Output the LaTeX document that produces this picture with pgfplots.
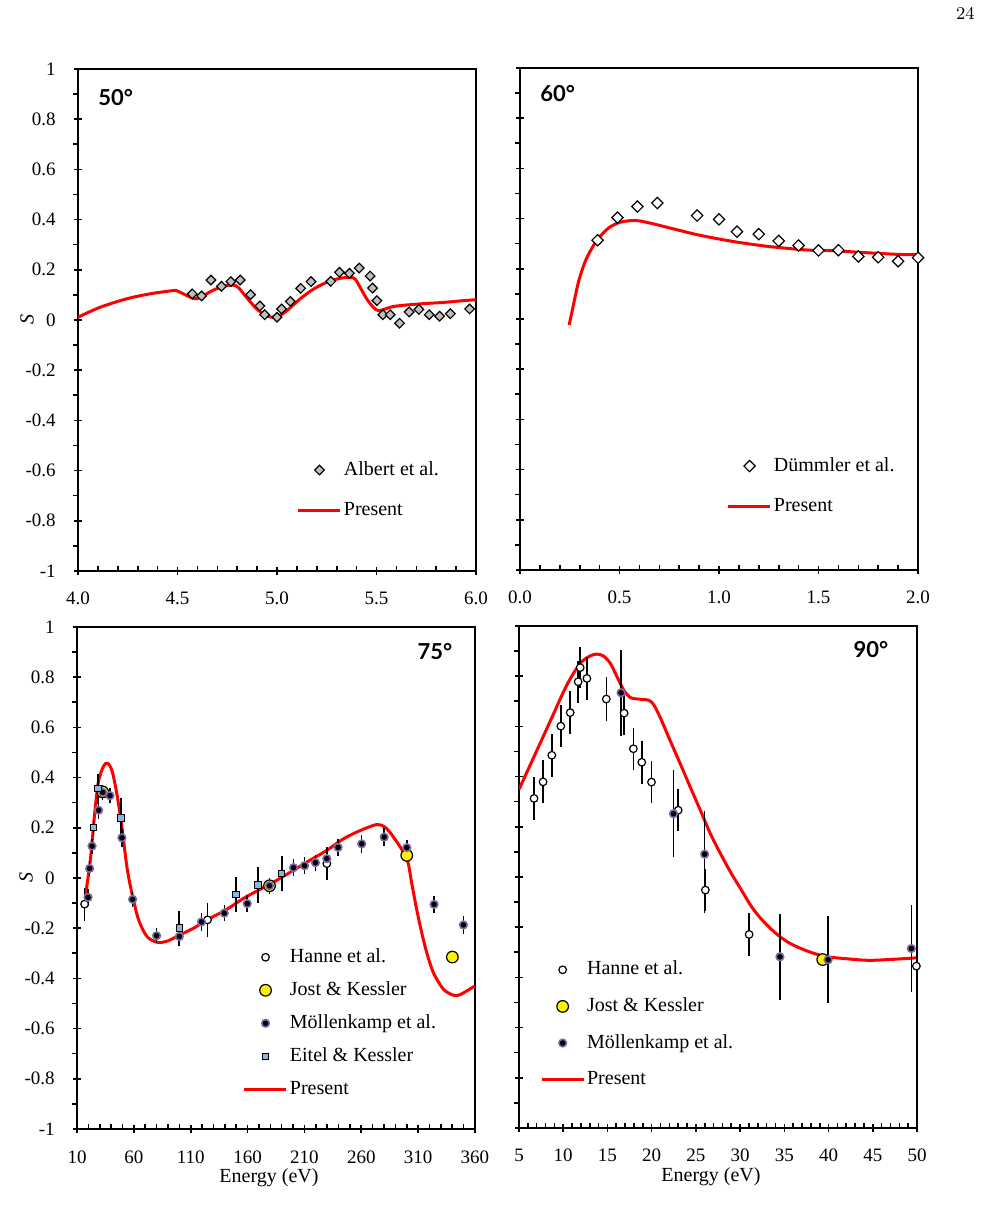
\documentclass[border=0pt]{standalone}
\usepackage{fontspec}
\setmainfont{Liberation Serif}
\newfontfamily\labfont{Lato}
\usepackage{pgfplots}
\pgfplotsset{compat=1.18}

\definecolor{mkedge}{RGB}{125,105,165}
\definecolor{eitelblue}{RGB}{140,180,225}
\definecolor{diagray}{RGB}{190,190,190}

\tikzset{panellabel/.style={inner sep=0pt, font=\labfont\bfseries\fontsize{11}{13}\selectfont}}

\pgfplotsset{
  panel/.style={
    scale only axis, width=199pt, height=251pt,
    ymin=-1, ymax=1,
    ytick={-1,-0.8,-0.6,-0.4,-0.2,0,0.2,0.4,0.6,0.8,1},
    minor y tick num=1, minor x tick num=4,
    tick pos=left, tick align=center,
    major tick length=4pt, minor tick length=2.4pt,
    minor x tick style={yshift=1.2pt},
    minor y tick style={xshift=-1.2pt},
    tick style={black, line width=0.8pt},
    axis line style={line width=0.9pt},
    ticklabel style={font=\fontsize{9.5}{11}\selectfont},
    /pgf/number format/assume math mode=true,
    xticklabel style={anchor=base, yshift=-15pt},
    yticklabel style={anchor=east, inner sep=0pt, xshift=-9pt},
    xlabel style={at={(axis description cs:0.5,0)}, anchor=base, yshift=-27pt, xshift=-3.5pt,
                  font=\fontsize{10}{12}\selectfont},
    ylabel style={at={(axis description cs:-0.128,0.5)}, anchor=center,
                  font=\fontsize{10}{12}\selectfont},
    legend cell align=left,
    legend style={draw=none, fill=none, inner sep=0pt, outer sep=0pt, anchor=north west,
                  font=\fontsize{10}{12}\selectfont,
                  nodes={inner sep=1pt, text height=7pt, text depth=2pt}},
  },
  leftlabels/.style={yticklabels={-1,-0.8,-0.6,-0.4,-0.2,0,0.2,0.4,0.6,0.8,1}},
  nolabels/.style={yticklabels={}},
  present/.style={red, line width=1.5pt, smooth, no markers, forget plot},
  presentleg/.style={red, line width=1.5pt,
    legend image code/.code={\draw[##1] (-2pt,0pt) -- (19pt,0pt);}},
  albert/.style={only marks, mark=square*, mark size=1.7pt,
    mark options={rotate=45, fill=diagray, draw=black, line width=0.6pt}},
  dummler/.style={only marks, mark=square*, mark size=2pt,
    mark options={rotate=45, fill=white, draw=black, line width=0.6pt}},
  hanne/.style={only marks, mark=*, mark size=1.9pt,
    mark options={fill=white, draw=black, line width=0.6pt}},
  jost/.style={only marks, mark=*, mark size=2.9pt,
    mark options={fill=yellow, draw=black, line width=0.6pt}},
  moll/.style={only marks, mark=*, mark size=1.9pt,
    mark options={fill=black, draw=mkedge, line width=0.8pt}},
  eitel/.style={only marks, mark=square*, mark size=1.6pt,
    mark options={fill=eitelblue, draw=black, line width=0.5pt}},
  ebars/.style={error bars/.cd, y dir=both, y explicit, error mark=none,
    error bar style={black, line width=0.75pt}},
}

\begin{document}
\begin{tikzpicture}
% page frame (invisible) and panel corners
\path (0pt,0pt) rectangle (491.5pt,610pt);
\coordinate (pA) at (39pt,324.5pt);
\coordinate (pB) at (260pt,325pt);
\coordinate (pC) at (38.5pt,45.5pt);
\coordinate (pD) at (259.5pt,46pt);
\node[anchor=base east, inner sep=0pt, font=\fontsize{9}{10}\selectfont] at (487.5pt,600pt) {$24$};

% ---------------- 50 degrees ----------------
\begin{axis}[panel, leftlabels, at={(pA)}, anchor=south west,
  xmin=4, xmax=6, xtick={4,4.5,5,5.5,6}, xticklabels={4.0,4.5,5.0,5.5,6.0},
  ylabel={\textit{S}},
  legend style={at={(rel axis cs:0.550,0.223)}, row sep=9.3pt}]
\addplot[present] table {
x y
4.000 0.011
4.109 0.050
4.243 0.084
4.361 0.104
4.478 0.117
4.503 0.114
4.579 0.086
4.612 0.089
4.680 0.119
4.747 0.137
4.780 0.139
4.805 0.130
4.847 0.090
4.898 0.044
4.948 0.017
4.998 0.011
5.049 0.037
5.116 0.084
5.183 0.123
5.250 0.150
5.317 0.166
5.367 0.170
5.393 0.163
5.418 0.130
5.451 0.084
5.485 0.050
5.510 0.037
5.552 0.046
5.586 0.054
5.669 0.061
5.753 0.066
5.837 0.070
5.921 0.076
6.000 0.081
};
\addplot[albert] table {
x y
4.574 0.104
4.621 0.096
4.668 0.159
4.721 0.134
4.768 0.153
4.815 0.159
4.867 0.101
4.914 0.056
4.938 0.021
5.000 0.011
5.023 0.044
5.067 0.074
5.119 0.126
5.171 0.153
5.270 0.154
5.314 0.190
5.364 0.186
5.413 0.207
5.468 0.175
5.480 0.127
5.502 0.077
5.532 0.021
5.569 0.021
5.616 -0.013
5.664 0.032
5.713 0.042
5.765 0.021
5.817 0.015
5.871 0.025
5.968 0.044
};
\addlegendentry{Albert et al.}
\addlegendimage{presentleg}
\addlegendentry{Present}
\node[panellabel, anchor=base west] at (rel axis cs:0.050,0.927) {50°};
\end{axis}

% ---------------- 60 degrees ----------------
\begin{axis}[panel, nolabels, at={(pB)}, anchor=south west,
  xmin=0, xmax=2, xtick={0,0.5,1,1.5,2}, xticklabels={0.0,0.5,1.0,1.5,2.0},
  legend style={at={(rel axis cs:0.520,0.229)}, row sep=9.3pt}]
\addplot[present] table {
x y
0.247 -0.024
0.269 0.058
0.295 0.151
0.328 0.230
0.362 0.283
0.396 0.323
0.446 0.363
0.497 0.384
0.556 0.392
0.598 0.391
0.665 0.380
0.766 0.360
0.901 0.334
1.069 0.309
1.237 0.290
1.406 0.277
1.490 0.273
1.574 0.272
1.742 0.264
1.911 0.257
2.000 0.256
};
\addplot[dummler] table {
x y
0.39 0.314
0.49 0.404
0.59 0.448
0.69 0.462
0.89 0.412
1.00 0.397
1.09 0.348
1.20 0.338
1.30 0.311
1.40 0.293
1.50 0.273
1.60 0.274
1.70 0.249
1.80 0.246
1.90 0.230
2.00 0.244
};
\addlegendentry{Dümmler et al.}
\addlegendimage{presentleg}
\addlegendentry{Present}
\node[panellabel, anchor=base west] at (rel axis cs:0.050,0.934) {60°};
\end{axis}

% ---------------- 75 degrees ----------------
\begin{axis}[panel, leftlabels, at={(pC)}, anchor=south west,
  xmin=10, xmax=360, xtick={10,60,110,160,210,260,310,360},
  xticklabels={10,60,110,160,210,260,310,360},
  xlabel={Energy (eV)}, ylabel={\textit{S}},
  legend style={at={(rel axis cs:0.417,0.364)}, row sep=5.5pt}]
\addplot[present] table {
x y
17.3 -0.074
21.7 0.071
26.1 0.282
29.0 0.387
33.4 0.446
36.9 0.457
40.8 0.427
45.1 0.334
49.5 0.202
53.9 0.044
58.3 -0.061
64.2 -0.167
71.5 -0.233
80.3 -0.256
89.1 -0.252
100.8 -0.226
112.5 -0.200
127.2 -0.160
141.8 -0.125
156.5 -0.081
171.1 -0.045
185.7 -0.009
200.4 0.031
215.0 0.071
229.7 0.110
244.3 0.156
259.0 0.189
273.6 0.213
280.9 0.202
288.3 0.163
300.0 0.077
304.4 -0.022
308.8 -0.127
313.2 -0.219
317.6 -0.298
323.4 -0.377
332.2 -0.443
341.0 -0.467
346.8 -0.465
360.0 -0.430
};
\addplot[hanne, ebars] table[x=x, y=y, y error=e] {
x y e
16.7 -0.104 0.066
124.8 -0.167 0.067
229.7 0.057 0.066
};
\addlegendentry{Hanne et al.}
\addplot[jost] table {
x y
32.6 0.343
179.3 -0.031
300.0 0.090
340.1 -0.315
};
\addlegendentry{Jost \& Kessler}
\addplot[moll, ebars] table[x=x, y=y, y error=e] {
x y e
19.7 -0.077 0.035
21.1 0.038 0.030
23.2 0.127 0.030
29.0 0.270 0.035
32.6 0.341 0.030
39.0 0.328 0.030
49.5 0.160 0.035
58.9 -0.085 0.030
80.0 -0.230 0.030
100.0 -0.233 0.035
119.5 -0.175 0.035
139.5 -0.140 0.033
159.7 -0.102 0.033
179.3 -0.031 0.032
200.4 0.041 0.033
210.1 0.049 0.033
219.7 0.061 0.032
229.7 0.077 0.040
239.6 0.122 0.035
260.4 0.136 0.035
280.1 0.163 0.035
300.0 0.121 0.032
324.0 -0.105 0.035
349.8 -0.187 0.035
};
\addlegendentry{Möllenkamp et al.}
\addplot[eitel, ebars] table[x=x, y=y, y error=e] {
x y e
24.4 0.202 0.030
28.5 0.356 0.060
48.7 0.239 0.080
99.9 -0.200 0.070
149.7 -0.065 0.070
169.0 -0.028 0.070
190.1 0.018 0.070
};
\addlegendentry{Eitel \& Kessler}
\addlegendimage{presentleg}
\addlegendentry{Present}
\node[panellabel, anchor=base east] at (rel axis cs:0.944,0.936) {75°};
\end{axis}

% ---------------- 90 degrees ----------------
\begin{axis}[panel, nolabels, at={(pD)}, anchor=south west,
  xmin=5, xmax=50, xtick={5,10,15,20,25,30,35,40,45,50},
  xticklabels={5,10,15,20,25,30,35,40,45,50},
  xlabel={Energy (eV)},
  legend style={at={(rel axis cs:0.053,0.337)}, row sep=7.3pt}]
\addplot[present] table {
x y
5.00 0.349
6.63 0.474
8.52 0.620
10.41 0.765
11.92 0.851
13.06 0.881
13.81 0.888
14.57 0.880
15.33 0.851
16.08 0.798
16.84 0.745
17.59 0.715
18.73 0.708
19.67 0.704
20.24 0.686
21.00 0.633
22.13 0.540
23.27 0.448
24.40 0.355
25.54 0.263
26.67 0.170
27.81 0.091
28.94 0.018
30.08 -0.048
31.21 -0.114
32.35 -0.166
33.86 -0.219
35.37 -0.259
36.88 -0.285
38.40 -0.305
39.91 -0.318
41.80 -0.325
44.45 -0.332
46.72 -0.329
48.23 -0.326
50.00 -0.322
};
\addplot[hanne, ebars] table[x=x, y=y, y error=e] {
x y e
6.70 0.313 0.087
7.72 0.379 0.086
8.71 0.485 0.085
9.73 0.601 0.085
10.79 0.655 0.085
11.69 0.778 0.084
11.92 0.834 0.083
12.68 0.791 0.087
14.87 0.709 0.087
16.88 0.653 0.086
17.93 0.511 0.084
18.88 0.457 0.085
19.98 0.378 0.085
23.00 0.266 0.084
26.07 -0.052 0.084
31.02 -0.229 0.084
49.93 -0.355 0.090
};
\addlegendentry{Hanne et al.}
\addplot[jost] table {
x y
39.34 -0.329
};
\addlegendentry{Jost \& Kessler}
\addplot[moll, ebars] table[x=x, y=y, y error plus=ep, y error minus=em] {
x y ep em
16.54 0.734 0.172 0.172
22.47 0.252 0.173 0.173
25.99 0.091 0.172 0.234
34.50 -0.318 0.172 0.172
39.95 -0.330 0.173 0.173
49.36 -0.285 0.174 0.174
};
\addlegendentry{Möllenkamp et al.}
\addlegendimage{presentleg}
\addlegendentry{Present}
\node[panellabel, anchor=base east] at (rel axis cs:0.929,0.938) {90°};
\end{axis}
\end{tikzpicture}
\end{document}
